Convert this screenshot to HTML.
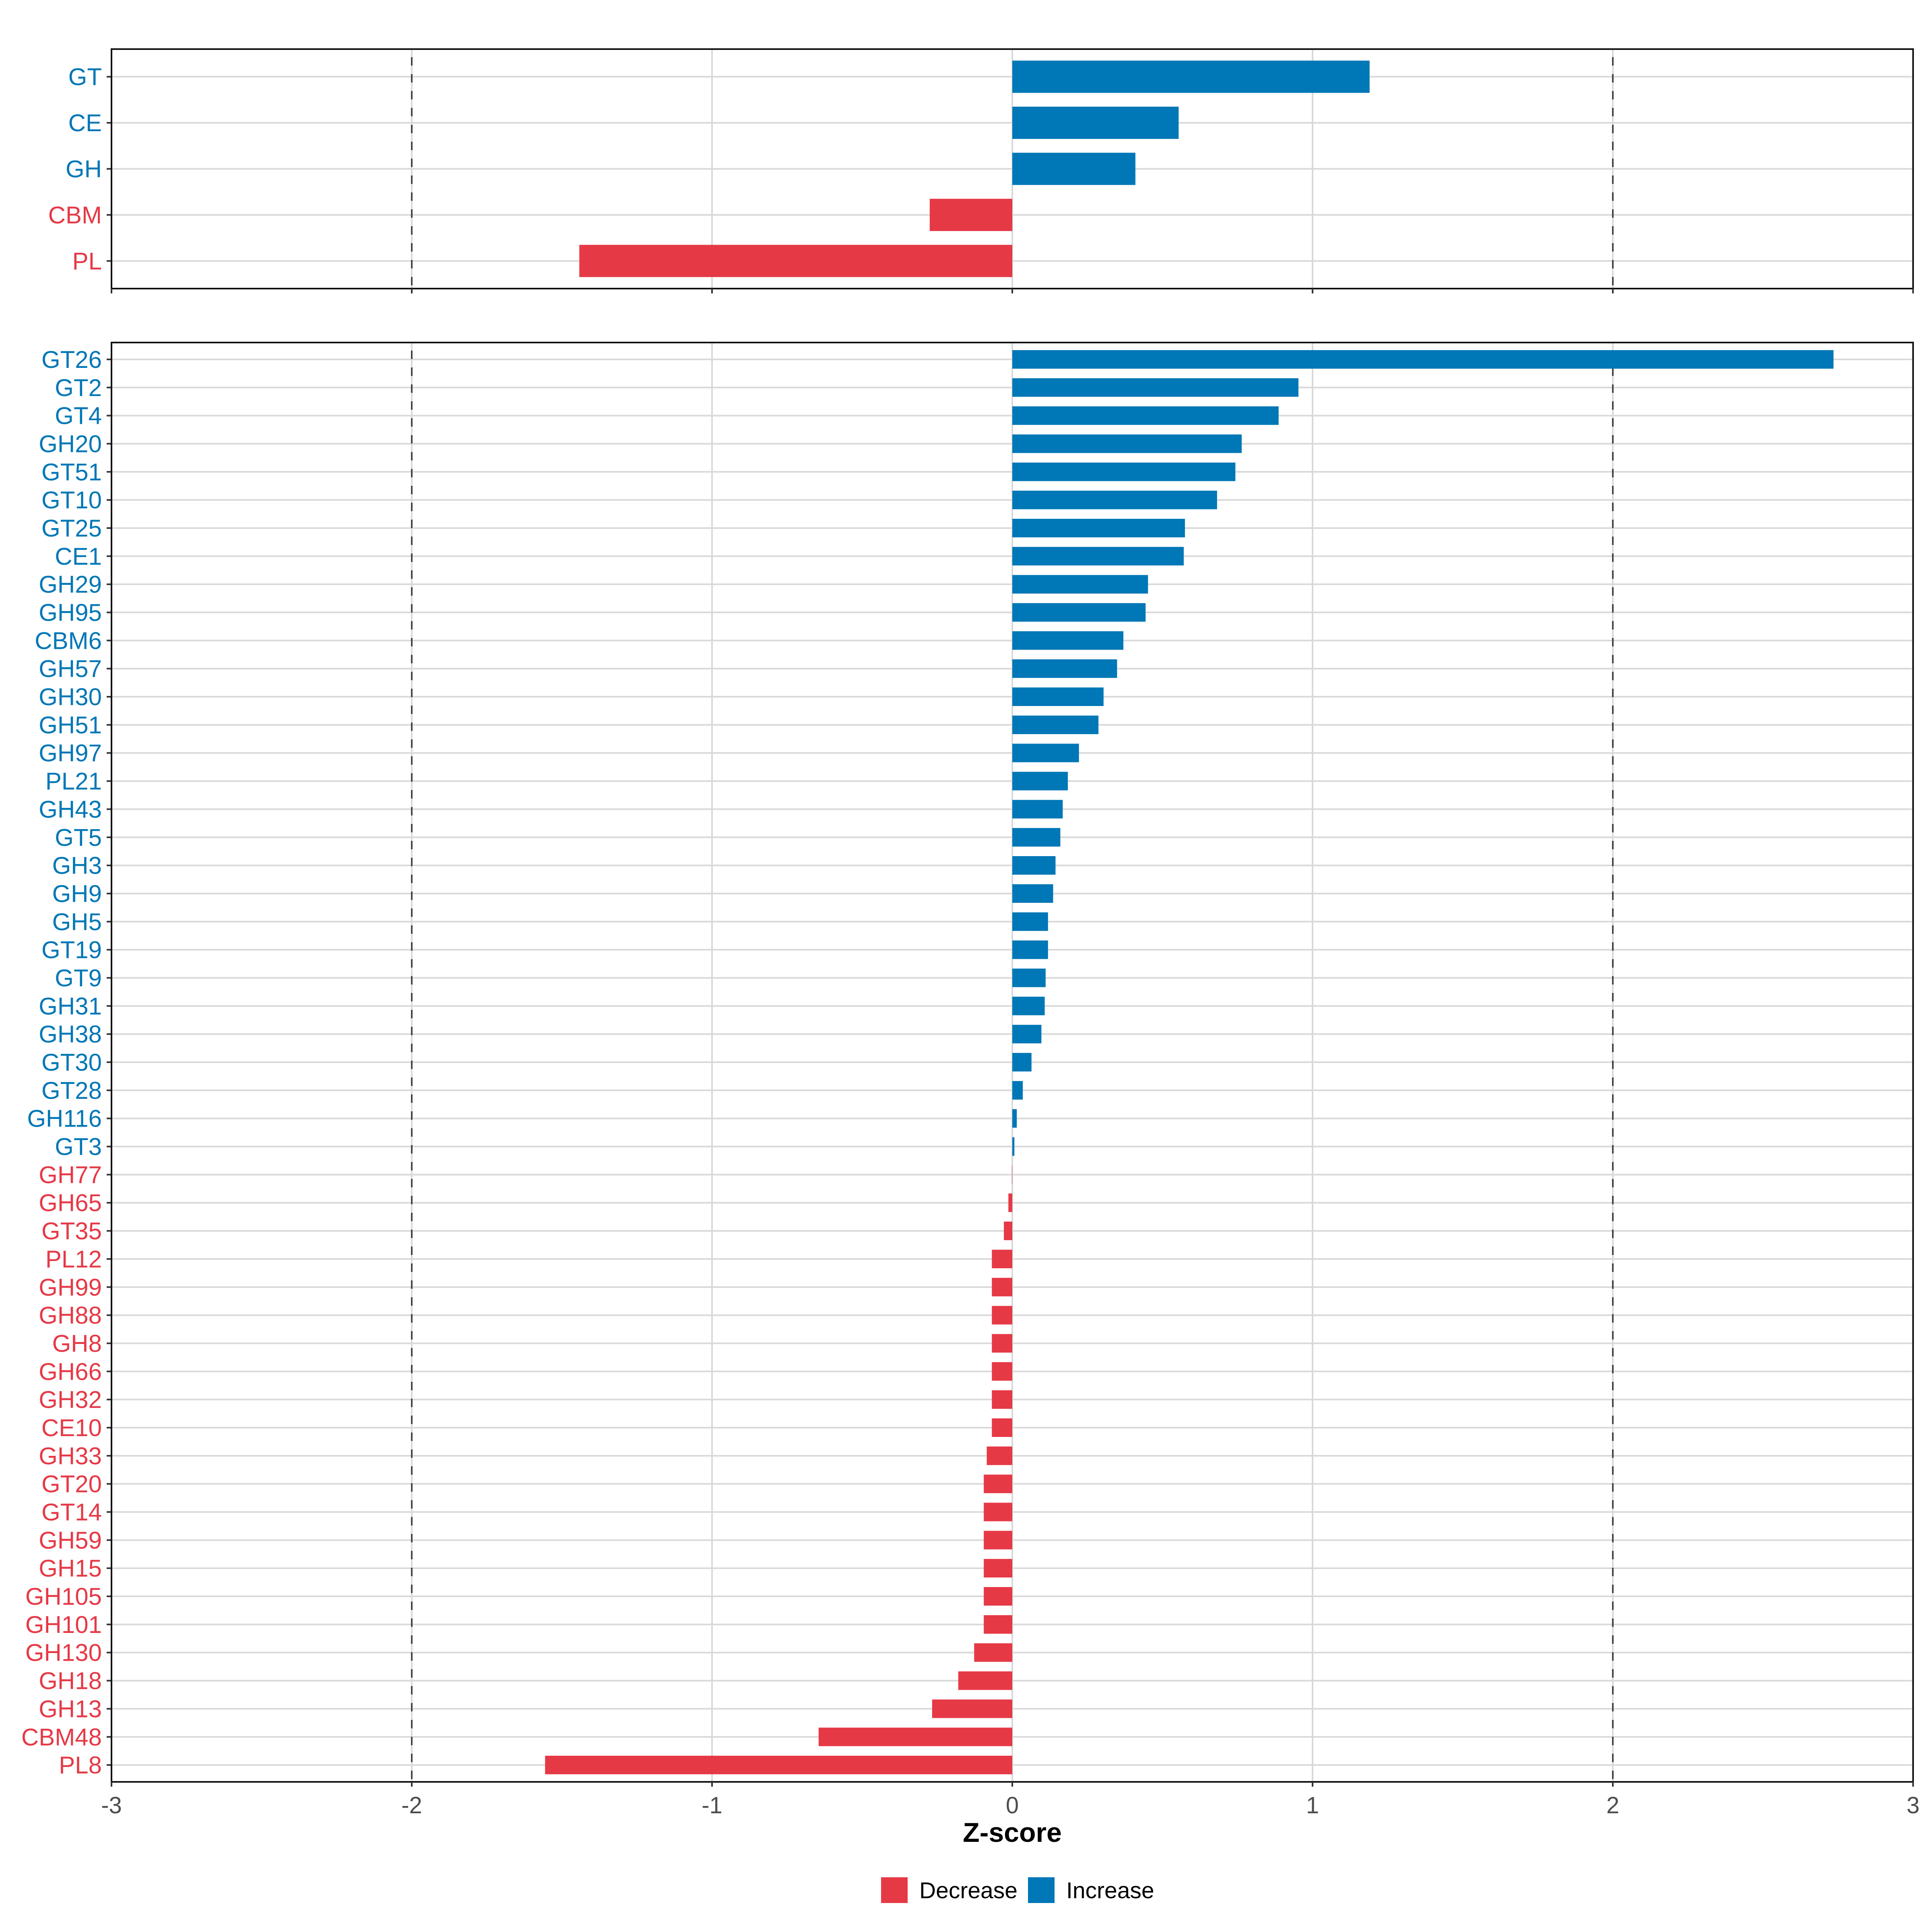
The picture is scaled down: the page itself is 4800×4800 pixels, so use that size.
<!DOCTYPE html>
<html><head><meta charset="utf-8"><style>
html,body{margin:0;padding:0;background:#fff}
svg{display:block}
text{font-family:"Liberation Sans",Arial,sans-serif}
</style></head><body>
<svg id="chart" width="4800" height="4800" viewBox="0 0 4800 4800" xmlns="http://www.w3.org/2000/svg"></svg>
<script>
const topCategories = ["GT","CE","GH","CBM","PL"];
const topValues = [1.19,0.554,0.41,-0.275,-1.442];
const bottomCategories = ["GT26","GT2","GT4","GH20","GT51","GT10","GT25","CE1","GH29","GH95","CBM6","GH57","GH30","GH51","GH97","PL21","GH43","GT5","GH3","GH9","GH5","GT19","GT9","GH31","GH38","GT30","GT28","GH116","GT3","GH77","GH65","GT35","PL12","GH99","GH88","GH8","GH66","GH32","CE10","GH33","GT20","GT14","GH59","GH15","GH105","GH101","GH130","GH18","GH13","CBM48","PL8"];
const bottomValues = [2.735,0.953,0.887,0.764,0.743,0.682,0.575,0.571,0.452,0.444,0.37,0.349,0.304,0.287,0.222,0.185,0.168,0.16,0.144,0.136,0.119,0.119,0.111,0.108,0.097,0.064,0.035,0.015,0.007,-0.001,-0.013,-0.028,-0.068,-0.068,-0.068,-0.068,-0.068,-0.068,-0.068,-0.085,-0.095,-0.095,-0.095,-0.095,-0.095,-0.095,-0.127,-0.18,-0.267,-0.645,-1.556];
const xTicks = [-3,-2,-1,0,1,2,3];
const xTickLabels = ["-3","-2","-1","0","1","2","3"];
const dashedRefs = [-2,2];

const NS="http://www.w3.org/2000/svg";
const svg=document.getElementById('chart');
const RED="#e63946", BLUE="#0077b6";
const X0=277, X1=4753;
function xs(v){return X0+(v+3)/6*(X1-X0);}
function el(tag,attrs,parent){const e=document.createElementNS(NS,tag);for(const k in attrs)e.setAttribute(k,attrs[k]);(parent||svg).appendChild(e);return e;}

function panel(name,cats,vals,top,bottom,barFrac,showLabels){
  const g=el('g',{});
  
  
  const n=cats.length;
  const step=(bottom-top)/(n-1+1.2);
  const ys=i=>top+step*(0.6+i);
  xTicks.forEach(t=>{
    const l=el('line',{x1:xs(t),x2:xs(t),y1:top,y2:bottom,stroke:'#d9d9d9','stroke-width':4},g);
    
    
  });
  cats.forEach((c,i)=>{
    const l=el('line',{x1:X0,x2:X1,y1:ys(i),y2:ys(i),stroke:'#d9d9d9','stroke-width':4},g);
    
    
  });
  dashedRefs.forEach(t=>{
    const l=el('line',{x1:xs(t),x2:xs(t),y1:top,y2:bottom,stroke:'#444','stroke-width':4,'stroke-dasharray':'21 21','stroke-dashoffset':'-20'},g);
    
    
  });
  const bh=step*barFrac;
  cats.forEach((c,i)=>{
    const v=vals[i];
    const x=Math.min(xs(0),xs(v)), w=Math.abs(xs(v)-xs(0));
    const r=el('rect',{x:x,y:ys(i)-bh/2,width:w,height:bh,fill:v>=0?BLUE:RED},g);
    
    
    const tk=el('line',{x1:X0-12,x2:X0,y1:ys(i),y2:ys(i),stroke:'#333','stroke-width':4},g);
    
    
    const t=el('text',{x:X0-24,y:ys(i)+21,'text-anchor':'end','font-size':60,fill:v>=0?BLUE:RED},g);
    t.textContent=c;
    
    
  });
  const b=el('rect',{x:X0,y:top,width:X1-X0,height:bottom-top,fill:'none',stroke:'#111','stroke-width':4},g);
  
  
  xTicks.forEach((t,i)=>{
    const tk=el('line',{x1:xs(t),x2:xs(t),y1:bottom,y2:bottom+12,stroke:'#333','stroke-width':4},g);
    
    
    if(showLabels){
      const tx=el('text',{x:xs(t),y:bottom+78,'text-anchor':'middle','font-size':58,fill:'#4d4d4d'},g);
      tx.textContent=xTickLabels[i];
      
      
    }
  });
}
panel('top-panel',topCategories,topValues,122,717,0.7,false);
panel('bottom-panel',bottomCategories,bottomValues,851,4427,0.66,true);

const title=el('text',{x:xs(0),y:4576,'text-anchor':'middle','font-size':68,'font-weight':'bold',fill:'#000'});
title.textContent='Z-score';



const lg=el('g',{});


const items=[["Decrease",RED,2189,2284],["Increase",BLUE,2554,2649]];
items.forEach(it=>{
  const r=el('rect',{x:it[2],y:4664,width:66,height:64,fill:it[1]},lg);
  
  
  const t=el('text',{x:it[3],y:4716,'font-size':57,fill:'#000'},lg);
  t.textContent=it[0];
  
  
});
</script>
</body></html>
